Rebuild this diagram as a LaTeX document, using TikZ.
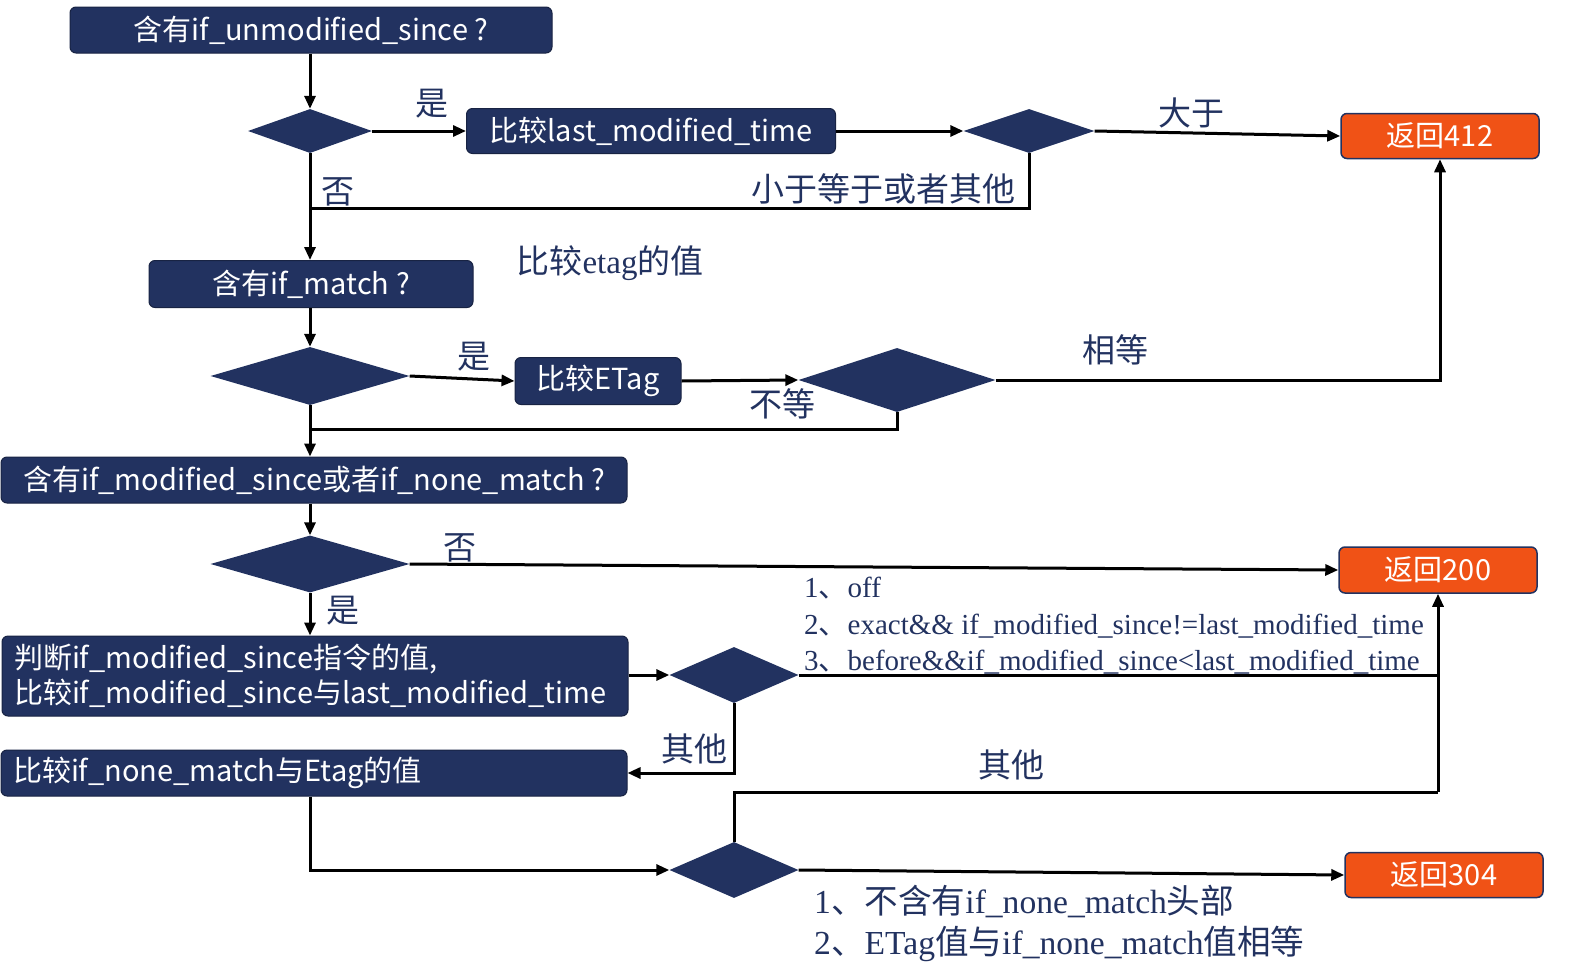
\documentclass[tikz,border=0pt]{standalone}
\usepackage{fontspec}
\usepackage{tikz}
\usepackage{xcolor}
\usetikzlibrary{shapes.geometric,arrows.meta}

\setmainfont{Liberation Serif}
\newfontfamily\cjkfont{Noto Sans CJK SC}

\definecolor{navy}{RGB}{34,50,96}
\definecolor{hot}{RGB}{240,82,22}

\begin{document}
\begin{tikzpicture}[x=1pt,y=-1pt,
    >={Triangle[length=13pt,width=11pt]},
    flow/.style={line width=3pt,->},
    link/.style={line width=3pt},
    box/.style={rectangle,rounded corners=6pt,fill=navy,draw=navy!70!black,line width=1pt,
        text=white,inner sep=0pt,font=\cjkfont\fontsize{29}{35}\selectfont},
    leftbox/.style={box,align=left,inner xsep=12pt,text width=602pt},
    endbox/.style={box,fill=hot,draw=navy,line width=1.5pt},
    cond/.style={diamond,fill=navy,inner sep=0pt},
    tag/.style={text=navy,inner sep=0pt,font=\cjkfont\fontsize{33}{38}\selectfont},
    note/.style={text=navy,inner sep=0pt,align=left}]

\useasboundingbox (0,0) rectangle (1582,969);

% Questions and checks
\node[box,minimum width=482pt,minimum height=46pt] (usince) at (311,30) {含有if\_unmodified\_since ?};
\node[cond,minimum width=124pt,minimum height=44pt] (d1) at (310,131) {};
\node[box,minimum width=369pt,minimum height=45pt] (lmt) at (651,131) {比较last\_modified\_time};
\node[cond,minimum width=131pt,minimum height=44pt] (d2) at (1029,131) {};
\node[endbox,minimum width=198pt,minimum height=45pt] (r412) at (1440,136) {返回412};

\node[box,minimum width=324pt,minimum height=47pt] (ifmatch) at (311,284) {含有if\_match ?};
\node[cond,minimum width=199pt,minimum height=58pt] (d3) at (310,376) {};
\node[box,minimum width=166pt,minimum height=47pt] (etag) at (598,381) {比较ETag};
\node[cond,minimum width=197pt,minimum height=64pt] (d4) at (897,380) {};

\node[box,minimum width=626pt,minimum height=46pt] (ims) at (314,480) {含有if\_modified\_since或者if\_none\_match ?};
\node[cond,minimum width=199pt,minimum height=57pt] (d5) at (310,564) {};
\node[endbox,minimum width=198pt,minimum height=46pt] (r200) at (1438,570) {返回200};

\node[leftbox,minimum height=80pt] (judge) at (315,676) {判断if\_modified\_since指令的值,\\比较if\_modified\_since与last\_modified\_time};
\node[cond,minimum width=129pt,minimum height=56pt] (d6) at (734,675) {};
\node[leftbox,minimum height=46pt] (nomatch) at (314,773) {比较if\_none\_match与Etag的值};
\node[cond,minimum width=129pt,minimum height=56pt] (d7) at (734,870) {};
\node[endbox,minimum width=198pt,minimum height=45pt] (r304) at (1444,875) {返回304};

% Joins
\coordinate (j1) at (310,208);
\coordinate (j2) at (310,429);
\coordinate (j3) at (1438,675);
\coordinate (j4) at (1438,792);

% Connectors
\draw[flow] (usince.south -| d1.north) -- (d1.north);
\draw[flow] (d1.east) -- (lmt.west);
\draw[flow] (lmt.east) -- (d2.west);
\draw[flow] (d2.east) -- (r412.west);
\draw[link] (d2.south) |- (j1);
\draw[flow] (d1.south) -- (ifmatch.north -| d1.south);
\draw[flow] (ifmatch.south -| d3.north) -- (d3.north);
\draw[flow] (d3.east) -- (etag.west);
\draw[flow] (etag.east) -- (d4.west);
\draw[flow] (d4.east) -| (r412.south);
\draw[link] (d4.south) |- (j2);
\draw[flow] (d3.south) -- (ims.north -| d3.south);
\draw[flow] (ims.south -| d5.north) -- (d5.north);
\draw[flow] (d5.east) -- (r200.west);
\draw[flow] (d5.south) -- (judge.north -| d5.south);
\draw[flow] (judge.east |- d6.west) -- (d6.west);
\draw[link] (d6.east) -- (j3);
\draw[flow] (d6.south) |- (nomatch.east);
\draw[flow] (nomatch.south -| d5.south) |- (d7.west);
\draw[link] (d7.north) |- (j4);
\draw[flow] (j4) -- (r200.south);
\draw[flow] (d7.east) -- (r304.west);

% Branch labels
\node[tag] (yes1) at (432,104) {是};
\node[tag] (no1) at (338,192) {否};
\node[tag] (gt) at (1191,113) {大于};
\node[tag] (le) at (883,189) {小于等于或者其他};
\node[tag] (cmp) at (610,263) {比较{\rmfamily etag}的值};
\node[tag] (yes2) at (474,357) {是};
\node[tag] (eq) at (1115,350) {相等};
\node[tag] (ne) at (782,404) {不等};
\node[tag] (no2) at (460,548) {否};
\node[tag] (yes3) at (343,611) {是};
\node[tag] (other1) at (694,749) {其他};
\node[tag] (other2) at (1011,765) {其他};

% Conditions
\node[note,anchor=west,font=\fontsize{29}{36.5}\selectfont] (rules200) at (804,626)
    {1{\cjkfont 、}off\\
     2{\cjkfont 、}exact\&\& if\_modified\_since!=last\_modified\_time\\
     3{\cjkfont 、}before\&\&if\_modified\_since<last\_modified\_time};
\node[note,anchor=west,font=\fontsize{33.6}{41}\selectfont] (rules304) at (814,923)
    {1{\cjkfont 、不含有}if\_none\_match{\cjkfont 头部}\\
     2{\cjkfont 、}ETag{\cjkfont 值与}if\_none\_match{\cjkfont 值相等}};

\end{tikzpicture}
\end{document}
